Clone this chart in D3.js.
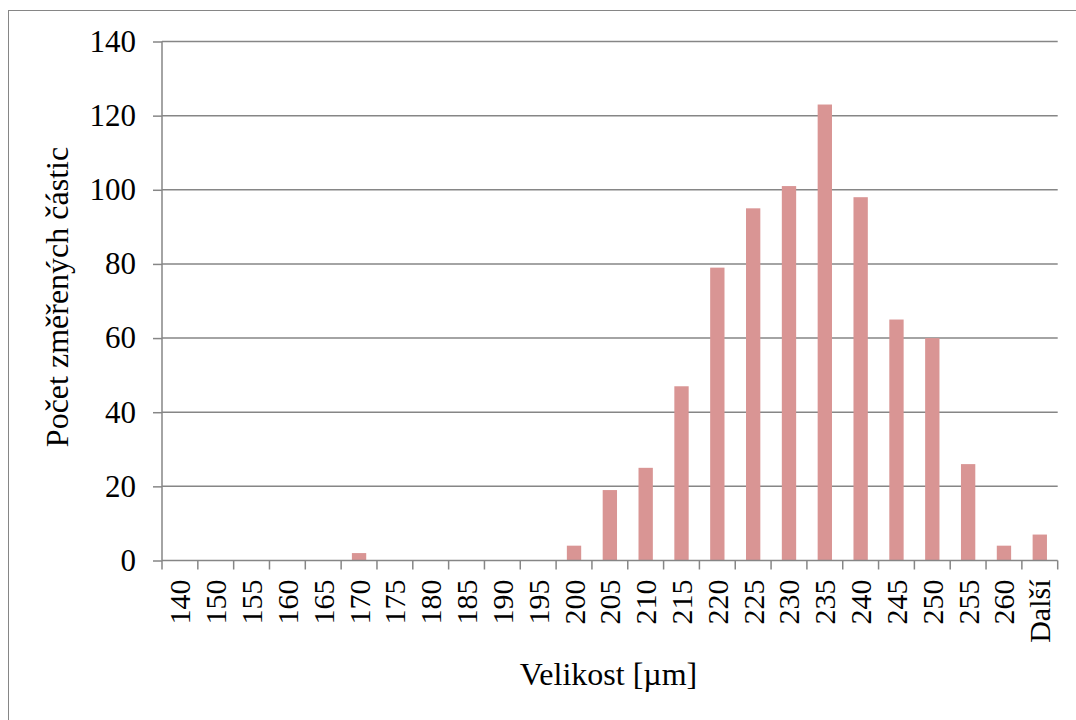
<!DOCTYPE html>
<html><head><meta charset="utf-8">
<script src="https://cdn.jsdelivr.net/npm/d3@7"></script>
<style>body{margin:0;background:#fff}svg{display:block}text{font-family:"Liberation Serif","Times New Roman",serif}</style>
</head><body>
<script>
const categories = ["140","150","155","160","165","170","175","180","185","190","195","200","205","210","215","220","225","230","235","240","245","250","255","260","Další"];
const counts = [0,0,0,0,0,2,0,0,0,0,0,4,19,25,47,79,95,101,123,98,65,60,26,4,7];
const yTicks = [0,20,40,60,80,100,120,140];
const yTitle = "Počet změřených částic";
const xTitle = "Velikost [µm]";

const W = 1076, H = 720;
const svg = d3.select("body").append("svg").attr("width", W).attr("height", H);
svg.append("rect").attr("x", 8.5).attr("y", 10.5).attr("width", W + 10).attr("height", H + 10)
  .attr("fill", "#fff").attr("stroke", "#868686").attr("stroke-width", 1);

const pL = 162, pR = 1057.7, pT = 41.5, pB = 560.5;
const x = d3.scaleBand().domain(categories).range([pL, pR]).paddingInner(0.6).paddingOuter(0.3);
const xb = d3.scaleBand().domain(categories).range([pL, pR]);
const y = d3.scaleLinear().domain([0, 140]).range([pB, pT]);
const grid = "#868686";

// gridlines
svg.append("g").selectAll("line").data(yTicks.filter(d => d > 0)).join("line")
  .attr("x1", pL).attr("x2", pR).attr("y1", d => y(d)).attr("y2", d => y(d))
  .attr("stroke", grid).attr("stroke-width", 1.5);

// bars
svg.append("g").selectAll("rect").data(categories.map((c, i) => ({c, v: counts[i]}))).join("rect")
  .attr("x", d => x(d.c)).attr("width", x.bandwidth())
  .attr("y", d => y(d.v)).attr("height", d => y(0) - y(d.v))
  .attr("fill", "#d99594");

// y axis
const yAxis = d3.axisLeft(y).tickValues(yTicks).tickSize(9).tickPadding(17);
const gy = svg.append("g").attr("transform", `translate(${pL},0)`).call(yAxis);
gy.attr("font-family", null).attr("font-size", null);
gy.select(".domain").attr("stroke", grid).attr("stroke-width", 1.5).attr("d", `M0,${pT}V${pB}`);
gy.selectAll(".tick line").attr("stroke", grid).attr("stroke-width", 1.5);
gy.selectAll(".tick text").style("font-size", "31px").attr("fill", "#000");

// x axis
const gx = svg.append("g").attr("transform", `translate(0,${pB})`);
gx.append("line").attr("x1", pL).attr("x2", pR).attr("stroke", grid).attr("stroke-width", 1.5);
const bounds = categories.map(c => xb(c)).concat([pR]);
gx.selectAll("line.t").data(bounds).join("line").attr("class", "t")
  .attr("x1", d => d).attr("x2", d => d).attr("y1", 0).attr("y2", 9)
  .attr("stroke", grid).attr("stroke-width", 1.5);
gx.selectAll("text").data(categories).join("text")
  .attr("transform", d => `translate(${xb(d) + xb.bandwidth() / 2 + 10.5},19) rotate(-90)`)
  .attr("text-anchor", "end")
  .style("font-size", "30px").attr("fill", "#000")
  .text(d => d);

// titles
svg.append("text").attr("transform", `translate(68,297) rotate(-90)`).attr("text-anchor", "middle")
  .style("font-size", "32px").attr("fill", "#000").text(yTitle);
svg.append("text").attr("x", 608.5).attr("y", 685).attr("text-anchor", "middle")
  .style("font-size", "32px").attr("fill", "#000").text(xTitle);
</script>
</body></html>
